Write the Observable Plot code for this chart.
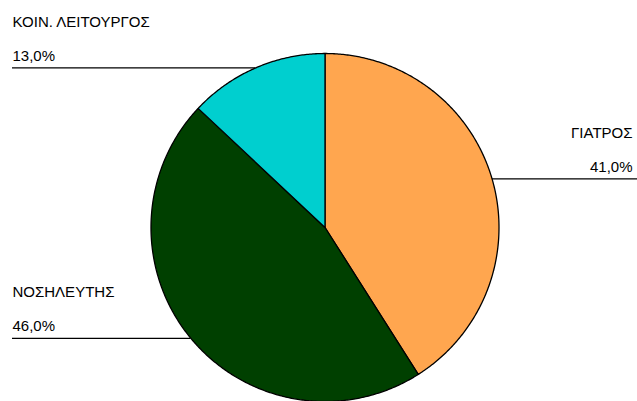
<!DOCTYPE html>
<html><head><meta charset="utf-8">
<script src="https://cdn.jsdelivr.net/npm/d3@7"></script>
<script src="https://cdn.jsdelivr.net/npm/@observablehq/plot@0.6"></script>
<style>body{margin:0;background:#fff}</style>
</head><body><div id="chart"></div>
<script>
const categories = ["ΓΙΑΤΡΟΣ", "ΝΟΣΗΛΕΥΤΗΣ", "ΚΟΙΝ. ΛΕΙΤΟΥΡΓΟΣ"];
const values = [41.0, 46.0, 13.0];
const valueLabels = ["41,0%", "46,0%", "13,0%"];
const colors = ["#ffa64f", "#004000", "#00cfcf"];

// layout
const W = 637, H = 401, CX = 324.5, CY = 227, R = 174;
const total = d3.sum(values);
const slices = [];
const labels = [];
let acc = 0;
categories.forEach((c, i) => {
  const a0 = acc / total * 2 * Math.PI;
  acc += values[i];
  const a1 = acc / total * 2 * Math.PI;
  slices.push({cat: c, x: 0, y: 0});
  const n = Math.max(2, Math.ceil((a1 - a0) / (Math.PI / 360)));
  for (let k = 0; k <= n; k++) {
    const a = a0 + (a1 - a0) * k / n;
    slices.push({cat: c, x: Math.sin(a), y: Math.cos(a)});
  }
  slices.push({cat: c, x: 0, y: 0});
  const am = (a0 + a1) / 2;
  const mx = Math.sin(am), my = Math.cos(am);
  labels.push({cat: c, val: valueLabels[i], mx, my, right: mx > 0});
});
const leftLabels = labels.filter(d => !d.right);
const rightLabels = labels.filter(d => d.right);

const xMin = -CX / R, xMax = (W - CX) / R;
const yMin = -(H - CY) / R, yMax = CY / R;
const leftEdge = (12 - CX) / R, rightEdge = (W - CX) / R, rightText = (632 - CX) / R;
const font = "'Liberation Sans', Arial, sans-serif";

const chart = Plot.plot({
  width: W, height: H,
  margin: 0,
  x: {domain: [xMin, xMax], range: [0, W], axis: null},
  y: {domain: [yMin, yMax], range: [H, 0], axis: null},
  color: {domain: categories, range: colors},
  style: {fontFamily: font, background: "#fff"},
  marks: [
    Plot.ruleY(labels, {y: "my", x1: d => d.right ? d.mx : leftEdge, x2: d => d.right ? rightEdge : d.mx, stroke: "#000", strokeWidth: 1.2}),
    Plot.line(slices, {x: "x", y: "y", z: "cat", fill: "cat", stroke: "#000", strokeWidth: 1.3, strokeLinejoin: "round", curve: "linear"}),
    Plot.text(leftLabels, {x: () => leftEdge, y: "my", text: "cat", textAnchor: "start", lineAnchor: "bottom", dy: -41, fontSize: 15, fill: "#000"}),
    Plot.text(leftLabels, {x: () => leftEdge, y: "my", text: "val", textAnchor: "start", lineAnchor: "bottom", dy: -7, fontSize: 15, fill: "#000"}),
    Plot.text(rightLabels, {x: () => rightText, y: "my", text: "cat", textAnchor: "end", lineAnchor: "bottom", dy: -41, fontSize: 15, fill: "#000"}),
    Plot.text(rightLabels, {x: () => rightText, y: "my", text: "val", textAnchor: "end", lineAnchor: "bottom", dy: -7, fontSize: 15, fill: "#000"})
  ]
});
document.getElementById("chart").appendChild(chart);
</script>
</body></html>
